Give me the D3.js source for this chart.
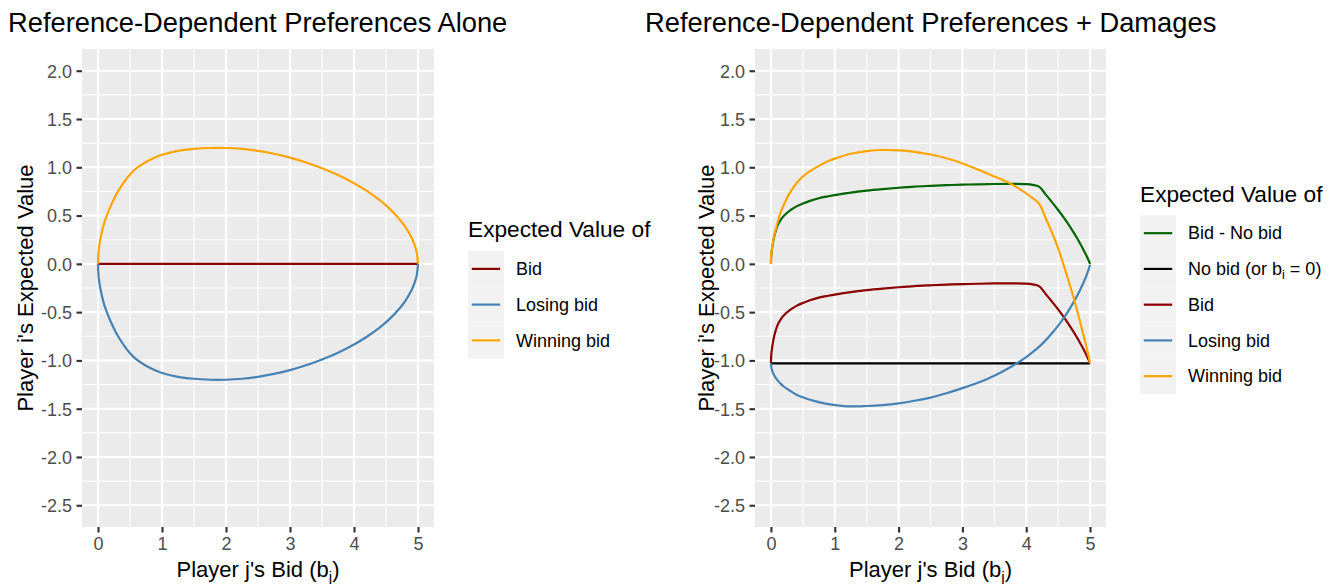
<!DOCTYPE html>
<html>
<head>
<meta charset="utf-8">
<script src="https://cdn.jsdelivr.net/npm/d3@7"></script>
<style>
  html, body { margin: 0; padding: 0; background: #ffffff; }
  svg { display: block; font-family: "Liberation Sans", Arial, Helvetica, sans-serif; }
</style>
</head>
<body>
<svg id="chart" width="1339" height="584"></svg>
<script>
// ---- Data ---------------------------------------------------------------

// Player j's bid grid, left panel
const bidGridLeft = [0, 0.005, 0.02, 0.05, 0.1, 0.15, 0.2, 0.3, 0.4, 0.5, 0.6, 0.75, 0.9, 1.0,
  1.25, 1.5, 1.75, 2.0, 2.25, 2.5, 2.75, 3.0, 3.25, 3.5, 3.75, 4.0, 4.2, 4.4, 4.55, 4.7, 4.8,
  4.9, 4.95, 4.98, 5.0];
const winningLeft = [0, 0.095, 0.19, 0.30, 0.43, 0.52, 0.60, 0.735, 0.84, 0.925, 0.99, 1.055, 1.105, 1.13,
  1.17, 1.19, 1.20, 1.20, 1.19, 1.17, 1.14, 1.10, 1.05, 0.99, 0.92, 0.835, 0.755, 0.66, 0.575, 0.47, 0.385,
  0.27, 0.19, 0.12, 0];
const losingLeft = [0, -0.095, -0.19, -0.30, -0.43, -0.52, -0.60, -0.735, -0.84, -0.925, -0.99, -1.055, -1.105, -1.13,
  -1.17, -1.19, -1.20, -1.20, -1.19, -1.17, -1.14, -1.10, -1.05, -0.99, -0.92, -0.835, -0.755, -0.66, -0.575, -0.47, -0.385,
  -0.27, -0.19, -0.12, 0];
const bidLeftX = [0, 5];
const bidLeft = [0, 0];

// Player j's bid grid, right panel
const bidGridRight = [0, 0.005, 0.02, 0.05, 0.1, 0.15, 0.2, 0.3, 0.4, 0.5, 0.6, 0.75, 0.9, 1.0,
  1.25, 1.5, 1.75, 2.0, 2.25, 2.5, 2.75, 3.0, 3.25, 3.5, 3.75, 4.0, 4.1, 4.2, 4.3, 4.4, 4.5,
  4.6, 4.7, 4.8, 4.9, 4.95, 4.98, 5.0];
const bidMinusNoBid = [0, 0.09, 0.17, 0.28, 0.39, 0.452, 0.495, 0.553, 0.595, 0.625, 0.65, 0.68, 0.70, 0.712,
  0.738, 0.758, 0.774, 0.788, 0.80, 0.808, 0.815, 0.82, 0.824, 0.827, 0.828, 0.825, 0.818, 0.80, 0.722, 0.642, 0.558,
  0.468, 0.37, 0.262, 0.142, 0.076, 0.032, 0];
const noBidX = [0, 5];
const noBid = [-1.03, -1.03];
const bidRight = [-1.03, -0.94, -0.86, -0.75, -0.64, -0.578, -0.535, -0.477, -0.435, -0.405, -0.38, -0.35, -0.33, -0.318,
  -0.292, -0.272, -0.256, -0.242, -0.23, -0.222, -0.215, -0.21, -0.206, -0.203, -0.202, -0.205, -0.212, -0.23, -0.308, -0.388, -0.472,
  -0.562, -0.66, -0.768, -0.888, -0.954, -0.998, -1.03];
const losingRight = [-1.03, -1.069, -1.108, -1.153, -1.204, -1.24, -1.27, -1.315, -1.355, -1.382, -1.405, -1.432, -1.452, -1.462,
  -1.476, -1.472, -1.462, -1.444, -1.418, -1.385, -1.34, -1.287, -1.228, -1.158, -1.07, -0.965, -0.915, -0.86, -0.795, -0.722, -0.64,
  -0.548, -0.445, -0.328, -0.19, -0.11, -0.055, -0.01];
const winningRight = [0, 0.095, 0.18, 0.29, 0.42, 0.53, 0.61, 0.74, 0.835, 0.905, 0.955, 1.015, 1.065, 1.09,
  1.14, 1.168, 1.179, 1.175, 1.16, 1.132, 1.093, 1.04, 0.975, 0.905, 0.833, 0.73, 0.68, 0.625, 0.48, 0.33, 0.16,
  -0.04, -0.255, -0.49, -0.745, -0.88, -0.965, -1.03];

// Axis ticks
const xTicks = [0, 1, 2, 3, 4, 5];
const yTicks = [-2.5, -2.0, -1.5, -1.0, -0.5, 0.0, 0.5, 1.0, 1.5, 2.0];
const xMinor = [0.5, 1.5, 2.5, 3.5, 4.5];
const yMinor = [-2.25, -1.75, -1.25, -0.75, -0.25, 0.25, 0.75, 1.25, 1.75];

// ---- Drawing ------------------------------------------------------------

const svg = d3.select("#chart");
const PLOT_TOP = 49, PLOT_BOTTOM = 527;
const TICK_LEN = 5.5;
const LINE_W = 2.2;
const FS_TICK = 18, FS_AXIS = 22, FS_TITLE = 27.3, FS_LEG_TITLE = 22.7, FS_LEG = 18;

const xDomain = [-0.25, 5.25];
const yDomain = [-2.725, 2.225];

function zip(xs, ys) { return xs.map((x, i) => [x, ys[i]]); }

function drawPanel(cfg) {
  const x = d3.scaleLinear().domain(xDomain).range([cfg.left, cfg.right]);
  const y = d3.scaleLinear().domain(yDomain).range([PLOT_BOTTOM, PLOT_TOP]);
  const g = svg.append("g");

  // panel background
  g.append("rect")
    .attr("x", cfg.left).attr("y", PLOT_TOP)
    .attr("width", cfg.right - cfg.left).attr("height", PLOT_BOTTOM - PLOT_TOP)
    .attr("fill", "#EBEBEB");

  // minor grid
  g.selectAll(".xminor").data(xMinor).join("line")
    .attr("x1", d => x(d)).attr("x2", d => x(d))
    .attr("y1", PLOT_TOP).attr("y2", PLOT_BOTTOM)
    .attr("stroke", "#fff").attr("stroke-width", 1.07);
  g.selectAll(".yminor").data(yMinor).join("line")
    .attr("y1", d => y(d)).attr("y2", d => y(d))
    .attr("x1", cfg.left).attr("x2", cfg.right)
    .attr("stroke", "#fff").attr("stroke-width", 1.07);

  // major grid
  g.selectAll(".xmajor").data(xTicks).join("line")
    .attr("x1", d => x(d)).attr("x2", d => x(d))
    .attr("y1", PLOT_TOP).attr("y2", PLOT_BOTTOM)
    .attr("stroke", "#fff").attr("stroke-width", 2.13);
  g.selectAll(".ymajor").data(yTicks).join("line")
    .attr("y1", d => y(d)).attr("y2", d => y(d))
    .attr("x1", cfg.left).attr("x2", cfg.right)
    .attr("stroke", "#fff").attr("stroke-width", 2.13);

  // axes
  const xAxis = d3.axisBottom(x).tickValues(xTicks).tickSize(TICK_LEN).tickPadding(4.4)
    .tickFormat(d3.format("d"));
  const yAxis = d3.axisLeft(y).tickValues(yTicks).tickSize(TICK_LEN).tickPadding(4.4)
    .tickFormat(d => d3.format(".1f")(d).replace("\u2212", "-"));

  const gx = g.append("g").attr("transform", `translate(0,${PLOT_BOTTOM})`).call(xAxis);
  const gy = g.append("g").attr("transform", `translate(${cfg.left},0)`).call(yAxis);
  [gx, gy].forEach(a => {
    a.select(".domain").remove();
    a.selectAll(".tick line").attr("stroke", "#333333").attr("stroke-width", 2.13);
    a.selectAll(".tick text").attr("fill", "#4D4D4D").attr("font-size", FS_TICK)
      .attr("font-family", "Liberation Sans, Arial, sans-serif");
  });
  gx.selectAll(".tick text").attr("dy", "0.74em");
  gy.selectAll(".tick text").attr("dy", "0.35em");

  // series lines
  const line = d3.line().x(d => x(d[0])).y(d => y(d[1])).curve(d3.curveCatmullRom.alpha(0.5));
  cfg.series.forEach(s => {
    g.append("path")
      .datum(zip(s.x, s.y))
      .attr("d", line)
      .attr("fill", "none")
      .attr("stroke", s.color)
      .attr("stroke-width", LINE_W)
      .attr("stroke-linejoin", "round")
      .attr("stroke-linecap", "butt");
  });

  // title
  svg.append("text")
    .attr("x", cfg.titleX).attr("y", 31.7)
    .attr("font-size", FS_TITLE).attr("fill", "#000")
    .text(cfg.title);

  // x axis title with subscript
  const xt = svg.append("text")
    .attr("x", (cfg.left + cfg.right) / 2).attr("y", 576.5)
    .attr("text-anchor", "middle").attr("font-size", FS_AXIS).attr("fill", "#000");
  xt.append("tspan").text("Player j's Bid (b");
  xt.append("tspan").attr("font-size", 15.4).attr("dy", 5).text("j");
  xt.append("tspan").attr("dy", -5).text(")");

  // y axis title
  svg.append("text")
    .attr("transform", `translate(${cfg.yTitleX},${(PLOT_TOP + PLOT_BOTTOM) / 2}) rotate(-90)`)
    .attr("text-anchor", "middle").attr("font-size", FS_AXIS).attr("fill", "#000")
    .text("Player i's Expected Value");

  // legend
  const lg = svg.append("g");
  lg.append("text")
    .attr("x", cfg.legend.x).attr("y", cfg.legend.titleY)
    .attr("font-size", FS_LEG_TITLE).attr("fill", "#000")
    .text("Expected Value of");
  const keyH = 35.75, keyW = 36;
  cfg.series.forEach((s, i) => {
    const ky = cfg.legend.keyTop + i * keyH;
    lg.append("rect")
      .attr("x", cfg.legend.x).attr("y", ky)
      .attr("width", keyW).attr("height", keyH)
      .attr("fill", "#F2F2F2");
    lg.append("line")
      .attr("x1", cfg.legend.x + 3.8).attr("x2", cfg.legend.x + keyW - 3.8)
      .attr("y1", ky + keyH / 2).attr("y2", ky + keyH / 2)
      .attr("stroke", s.color).attr("stroke-width", LINE_W);
    const t = lg.append("text")
      .attr("x", cfg.legend.x + 48).attr("y", ky + keyH / 2 + FS_LEG * 0.35)
      .attr("font-size", FS_LEG).attr("fill", "#000");
    let shift = 0;
    s.label.forEach(part => {
      const ts = t.append("tspan").text(part.text);
      if (part.sub) {
        ts.attr("font-size", 12.6).attr("dy", 4 - shift);
        shift = 4;
      } else if (shift) {
        ts.attr("dy", -shift);
        shift = 0;
      }
    });
  });
}

// Left panel: reference-dependent preferences only
drawPanel({
  left: 82, right: 434,
  titleX: 8, title: "Reference-Dependent Preferences Alone",
  yTitleX: 32.7,
  legend: { x: 468, titleY: 236.5, keyTop: 251 },
  series: [
    { x: bidLeftX, y: bidLeft, color: "#8B0000", label: [{ text: "Bid" }] },
    { x: bidGridLeft, y: losingLeft, color: "#4682B4", label: [{ text: "Losing bid" }] },
    { x: bidGridLeft, y: winningLeft, color: "#FFA500", label: [{ text: "Winning bid" }] }
  ]
});

// Right panel: reference-dependent preferences with damages
drawPanel({
  left: 755, right: 1106,
  titleX: 645, title: "Reference-Dependent Preferences + Damages",
  yTitleX: 713.5,
  legend: { x: 1140, titleY: 201.5, keyTop: 215.3 },
  series: [
    { x: bidGridRight, y: bidMinusNoBid, color: "#006400", label: [{ text: "Bid - No bid" }] },
    { x: noBidX, y: noBid, color: "#000000", label: [{ text: "No bid (or b" }, { text: "i", sub: true }, { text: " = 0)" }] },
    { x: bidGridRight, y: bidRight, color: "#8B0000", label: [{ text: "Bid" }] },
    { x: bidGridRight, y: losingRight, color: "#4682B4", label: [{ text: "Losing bid" }] },
    { x: bidGridRight, y: winningRight, color: "#FFA500", label: [{ text: "Winning bid" }] }
  ]
});
</script>
</body>
</html>
